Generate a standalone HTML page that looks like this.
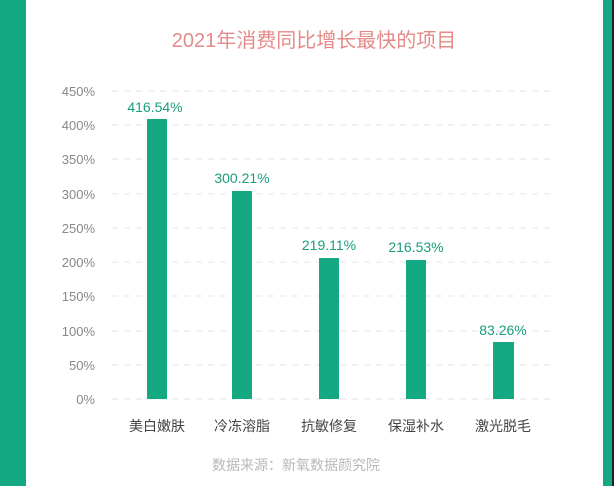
<!DOCTYPE html>
<html><head><meta charset="utf-8"><style>
html,body{margin:0;padding:0;background:#fff;}
body{width:616px;height:486px;overflow:hidden;position:relative;}
</style></head><body>
<svg width="616" height="486" viewBox="0 0 616 486" xmlns="http://www.w3.org/2000/svg" style="position:absolute;left:0;top:0">
<rect x="0" y="0" width="26" height="486" fill="#14a982"/>
<rect x="603" y="0" width="9" height="486" fill="#14a982"/>
<rect x="612" y="0" width="2" height="486" fill="#222"/>
<text x="314" y="47" text-anchor="middle" font-family="Liberation Sans, Noto Sans CJK SC, sans-serif" font-size="20" fill="#e48a88">2021年消费同比增长最快的项目</text>
<g stroke="#e4e4e4" stroke-width="1" stroke-dasharray="6,6">
<line x1="112" y1="91" x2="556" y2="91"/>
<line x1="112" y1="125" x2="556" y2="125"/>
<line x1="112" y1="159" x2="556" y2="159"/>
<line x1="112" y1="194" x2="556" y2="194"/>
<line x1="112" y1="228" x2="556" y2="228"/>
<line x1="112" y1="262" x2="556" y2="262"/>
<line x1="112" y1="296" x2="556" y2="296"/>
<line x1="112" y1="331" x2="556" y2="331"/>
<line x1="112" y1="365" x2="556" y2="365"/>
<line x1="112" y1="399" x2="556" y2="399"/>
</g>
<g font-family="Liberation Sans, sans-serif" font-size="13" fill="#888" text-anchor="end">
<text x="95" y="96">450%</text>
<text x="95" y="130">400%</text>
<text x="95" y="164">350%</text>
<text x="95" y="199">300%</text>
<text x="95" y="233">250%</text>
<text x="95" y="267">200%</text>
<text x="95" y="301">150%</text>
<text x="95" y="336">100%</text>
<text x="95" y="370">50%</text>
<text x="95" y="404">0%</text>
</g>
<g fill="#14a982">
<rect x="147" y="119" width="20" height="280"/>
<rect x="232" y="191" width="20" height="208"/>
<rect x="319" y="258" width="20" height="141"/>
<rect x="406" y="260" width="20" height="139"/>
<rect x="493" y="342" width="21" height="57"/>
</g>
<g font-family="Liberation Sans, sans-serif" font-size="14" fill="#1a9e7c" text-anchor="middle">
<text x="155" y="112">416.54%</text>
<text x="242" y="183">300.21%</text>
<text x="329" y="250">219.11%</text>
<text x="416" y="252">216.53%</text>
<text x="503" y="335">83.26%</text>
</g>
<g font-family="Liberation Sans, Noto Sans CJK SC, sans-serif" font-size="14" fill="#444" text-anchor="middle">
<text x="157" y="431">美白嫩肤</text>
<text x="242" y="431">冷冻溶脂</text>
<text x="329" y="431">抗敏修复</text>
<text x="416" y="431">保湿补水</text>
<text x="503" y="431">激光脱毛</text>
</g>
<text x="296" y="470" text-anchor="middle" font-family="Liberation Sans, Noto Sans CJK SC, sans-serif" font-size="14" fill="#b8b8b8">数据来源：新氧数据颜究院</text>
</svg>
</body></html>
